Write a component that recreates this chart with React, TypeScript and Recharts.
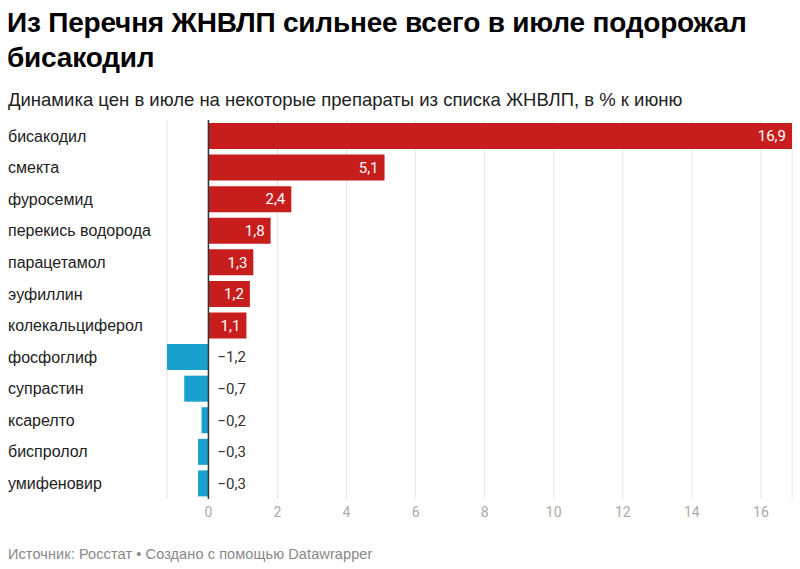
import React from 'react';
import { BarChart, Bar, XAxis, YAxis, CartesianGrid, ReferenceLine, Cell, LabelList } from 'recharts';

const categories = ['бисакодил', 'смекта', 'фуросемид', 'перекись водорода', 'парацетамол', 'эуфиллин', 'колекальциферол', 'фосфоглиф', 'супрастин', 'ксарелто', 'биспролол', 'умифеновир'];
const values = [16.9, 5.1, 2.4, 1.8, 1.3, 1.2, 1.1, -1.2, -0.7, -0.2, -0.3, -0.3];
const xTicks = [0, 2, 4, 6, 8, 10, 12, 14, 16];

const title = ['Из Перечня ЖНВЛП сильнее всего в июле подорожал', 'бисакодил'];
const subtitle = 'Динамика цен в июле на некоторые препараты из списка ЖНВЛП, в % к июню';
const footer = 'Источник: Росстат • Создано с помощью Datawrapper';

const data = categories.map((name, i) => ({ name, value: values[i] }));

const RED = '#c71e1d';
const BLUE = '#18a1cd';
const FONT = '"Liberation Sans", Arial, sans-serif';
const TICKFONT = 'Roboto, sans-serif';

const fmt = (v: number) => (v < 0 ? '\u2212' : '') + Math.abs(v).toFixed(1).replace('.', ',');

const geom = (props: any) => {
  const vb = props.viewBox || {};
  const x = props.x ?? vb.x;
  const y = props.y ?? vb.y;
  const width = props.width ?? vb.width;
  const height = props.height ?? vb.height;
  return { x, y, width, height };
};

const renderLabel = (props: any) => {
  const { x, y, width, height } = geom(props);
  const value = Number(props.value);
  const right = Math.max(x, x + width);
  const cy = y + height / 2;
  if (value >= 0) {
    return (
      <text x={right - 6} y={cy} dy="0.35em" textAnchor="end" fill="#fff" fontSize={15} fontFamily={TICKFONT}>
        {fmt(value)}
      </text>
    );
  }
  return (
    <text x={right + 9} y={cy} dy="0.35em" textAnchor="start" fill="#333" fontSize={15} fontFamily={TICKFONT}>
      {fmt(value)}
    </text>
  );
};

const renderName = (props: any) => {
  const { y, height } = geom(props);
  return (
    <text x={8} y={y + height / 2} dy="0.35em" textAnchor="start" fill="#222" fontSize={16} fontFamily={FONT}>
      {props.value}
    </text>
  );
};

const NumTick = (props: any) => {
  const { x, y, payload } = props;
  return (
    <text x={x} y={y} dy="0.71em" textAnchor="middle" fill="#aaa" fontSize={14} fontFamily={TICKFONT}>
      {payload.value}
    </text>
  );
};

export default function App() {
  return (
    <div style={{ position: 'absolute', left: 0, top: 0, width: 800, height: 569, background: '#fff', fontFamily: FONT, overflow: 'hidden' }}>
      <div style={{ position: 'absolute', left: 7, top: 5, fontSize: 28, lineHeight: '35px', fontWeight: 700, color: '#000', whiteSpace: 'nowrap', letterSpacing: '-0.2px' }}>
        {title[0]}
        <br />
        {title[1]}
      </div>
      <div style={{ position: 'absolute', left: 8, top: 89, fontSize: 18.5, lineHeight: '22px', color: '#222', whiteSpace: 'nowrap' }}>
        {subtitle}
      </div>
      <div style={{ position: 'absolute', left: 0, top: 0 }}>
        <BarChart width={800} height={569} layout="vertical" data={data} margin={{ top: 120, right: 8, bottom: 40, left: 167 }}>
          <CartesianGrid horizontal={false} vertical={true} stroke="#e6e6e6" strokeWidth={1} />
          <XAxis type="number" domain={[-1.2, 16.9]} ticks={xTicks} axisLine={false} tickLine={false} height={30} tick={<NumTick />} interval={0} />
          <YAxis type="category" dataKey="name" width={0} hide />
          <Bar dataKey="value" barSize={26} isAnimationActive={false}>
            {data.map((d, i) => (
              <Cell key={i} fill={d.value >= 0 ? RED : BLUE} />
            ))}
            <LabelList dataKey="value" content={renderLabel} />
            <LabelList dataKey="name" content={renderName} />
          </Bar>
          <ReferenceLine x={0} stroke="#333" strokeWidth={1.5} />
        </BarChart>
      </div>
      <div style={{ position: 'absolute', left: 8, top: 546, fontSize: 14.5, lineHeight: '16px', color: '#888', whiteSpace: 'nowrap', letterSpacing: '0.1px' }}>
        {footer}
      </div>
    </div>
  );
}
